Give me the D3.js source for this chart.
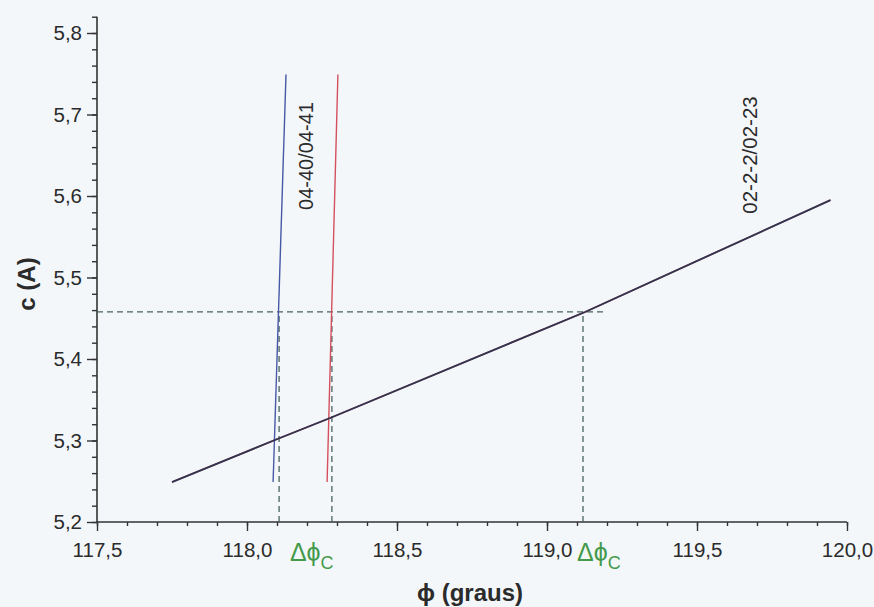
<!DOCTYPE html>
<html>
<head>
<meta charset="utf-8">
<script src="https://cdn.jsdelivr.net/npm/d3@7"></script>
<style>
  html, body { margin: 0; padding: 0; background: #f4f7fa; }
  svg { display: block; }
  text { font-family: "Liberation Sans", Arial, sans-serif; fill: #2b2b2b; }
</style>
</head>
<body>
<svg id="chart" width="874" height="607"></svg>
<script>
// Lattice parameter c versus angle phi, with the two crossing branches
const xTicks = [117.5, 118.0, 118.5, 119.0, 119.5, 120.0];
const yTicks = [5.2, 5.3, 5.4, 5.5, 5.6, 5.7, 5.8];

// Shallow branch (02-2-2/02-23)
const phiShallow = [117.75, 118.093, 118.277, 119.127, 119.945];
const cShallow   = [5.249, 5.3006, 5.3276, 5.4577, 5.595];

// Steep branches (04-40/04-41)
const phiBlue = [118.087, 118.13];
const cBlue   = [5.249, 5.749];
const phiRed  = [118.267, 118.303];
const cRed    = [5.249, 5.749];

// Reference level and the crossings read from it
const cLevel = 5.4577;
const phiLevelEnd = 119.187;
const phiCross = [118.107, 118.283, 119.12];
const deltaLabelPhi = [118.143, 119.1];

const labelSteep = "04-40/04-41";
const labelShallow = "02-2-2/02-23";

const svg = d3.select("#chart");
const x = d3.scaleLinear().domain([117.5, 120.0]).range([97, 847]);
const y = d3.scaleLinear().domain([5.2, 5.82]).range([522, 16.7]);

const fmt = d => d3.format(".1f")(d).replace(".", ",");
const font = "Liberation Sans, Arial, sans-serif";

// Axes: minor ticks first, then labelled major ticks
const gx = svg.append("g").attr("transform", "translate(0,522)");
gx.call(d3.axisBottom(x).tickValues(d3.range(117.5, 120.001, 0.1)).tickSize(4).tickFormat(""));
const gx2 = svg.append("g").attr("transform", "translate(0,522)");
gx2.call(d3.axisBottom(x).tickValues(xTicks).tickSize(9).tickPadding(11).tickFormat(fmt));
gx2.selectAll(".tick text").attr("font-size", 20.5).attr("fill", "#2b2b2b").attr("font-family", font);

const gy = svg.append("g").attr("transform", "translate(97,0)");
gy.call(d3.axisLeft(y).tickValues(d3.range(5.2, 5.8201, 0.02)).tickSize(5).tickFormat(""));
const gy2 = svg.append("g").attr("transform", "translate(97,0)");
gy2.call(d3.axisLeft(y).tickValues(yTicks).tickSize(10).tickPadding(5).tickFormat(fmt));
gy2.selectAll(".tick text").attr("font-size", 20.5).attr("fill", "#2b2b2b").attr("font-family", font);

svg.selectAll(".domain").remove();
svg.selectAll(".tick line").attr("stroke", "#333").attr("stroke-width", 1.4);

// Axis lines
svg.append("line").attr("x1", 97).attr("x2", x(120)).attr("y1", 522).attr("y2", 522)
   .attr("stroke", "#333").attr("stroke-width", 1.6);
svg.append("line").attr("x1", 97).attr("x2", 97).attr("y1", y(5.2)).attr("y2", y(5.82))
   .attr("stroke", "#333").attr("stroke-width", 1.6);

// Dashed guides
const dash = "6,4";
const guideColor = "#48645d";
svg.append("line")
   .attr("x1", x(117.5)).attr("x2", x(phiLevelEnd))
   .attr("y1", y(cLevel)).attr("y2", y(cLevel))
   .attr("stroke", guideColor).attr("stroke-width", 1.3).attr("stroke-dasharray", dash);
svg.selectAll(".vguide").data(phiCross).enter().append("line")
   .attr("class", "vguide")
   .attr("x1", d => x(d)).attr("x2", d => x(d))
   .attr("y1", y(5.2)).attr("y2", y(cLevel))
   .attr("stroke", guideColor).attr("stroke-width", 1.3).attr("stroke-dasharray", dash);

const line = d3.line().x(d => x(d[0])).y(d => y(d[1]));
const zip = (a, b) => a.map((v, i) => [v, b[i]]);

svg.append("path").datum(zip(phiRed, cRed)).attr("d", line)
   .attr("fill", "none").attr("stroke", "#d4505c").attr("stroke-width", 1.4);
svg.append("path").datum(zip(phiBlue, cBlue)).attr("d", line)
   .attr("fill", "none").attr("stroke", "#4658a6").attr("stroke-width", 1.4);

// Shallow branch: red trace hidden under the dark one
svg.append("path").datum(zip(phiShallow, cShallow)).attr("d", line)
   .attr("fill", "none").attr("stroke", "#c85060").attr("stroke-width", 1.7);
svg.append("path").datum(zip(phiShallow, cShallow)).attr("d", line)
   .attr("fill", "none").attr("stroke", "#2e3550").attr("stroke-width", 1.8);

// Branch labels
svg.append("text").text(labelSteep)
   .attr("transform", "translate(306,156) rotate(-90)")
   .attr("text-anchor", "middle").attr("dominant-baseline", "central")
   .attr("font-size", 20);
svg.append("text").text(labelShallow)
   .attr("transform", "translate(749,155) rotate(-90)")
   .attr("text-anchor", "middle").attr("dominant-baseline", "central")
   .attr("font-size", 20.5);

// Axis titles
svg.append("text").text("c (A)")
   .attr("transform", "translate(26,284) rotate(-90)")
   .attr("text-anchor", "middle").attr("dominant-baseline", "central")
   .attr("font-size", 24).attr("font-weight", "bold");
svg.append("text").text("ϕ (graus)")
   .attr("x", 470).attr("y", 601)
   .attr("text-anchor", "middle")
   .attr("font-size", 24).attr("font-weight", "bold");

// Δϕc markers
const dl = svg.selectAll(".dlabel").data(deltaLabelPhi).enter().append("text")
   .attr("class", "dlabel")
   .attr("x", d => x(d)).attr("y", 561)
   .attr("text-anchor", "start")
   .style("fill", "#449a4a")
   .attr("font-size", 25);
dl.append("tspan").text("Δϕ");
dl.append("tspan").text("C").attr("font-size", 18).attr("dy", 8);
</script>
</body>
</html>
